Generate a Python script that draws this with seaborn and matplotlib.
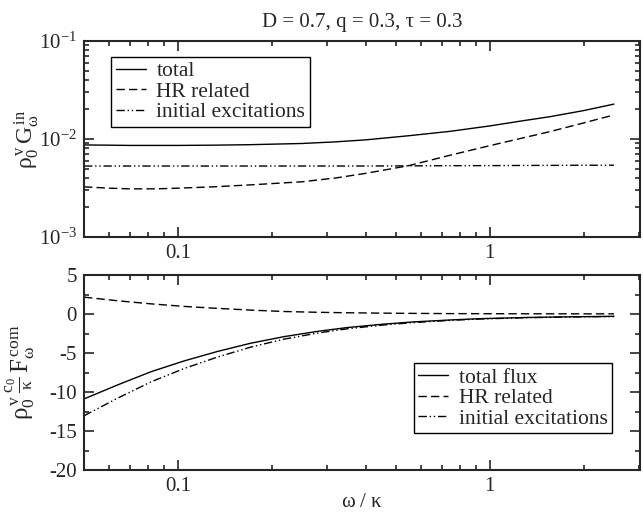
import numpy as np
import pandas as pd
import matplotlib
matplotlib.use("Agg")
import matplotlib.pyplot as plt
import matplotlib.ticker as mticker
import seaborn as sns

# Spectral density G_omega^in (upper panel)
omega_g = [0.05, 0.06, 0.07, 0.085, 0.1, 0.13, 0.17, 0.25, 0.32, 0.4, 0.55, 0.75, 1.0, 1.25, 1.56, 2.0, 2.5]
g_total = [8.7e-3, 8.65e-3, 8.6e-3, 8.6e-3, 8.6e-3, 8.65e-3, 8.75e-3, 9.0e-3, 9.35e-3, 9.8e-3,
           1.08e-2, 1.2e-2, 1.36e-2, 1.52e-2, 1.69e-2, 1.95e-2, 2.27e-2]
g_hr = [3.25e-3, 3.15e-3, 3.1e-3, 3.1e-3, 3.15e-3, 3.25e-3, 3.4e-3, 3.66e-3, 4.0e-3, 4.46e-3,
        5.35e-3, 6.86e-3, 8.55e-3, 1.01e-2, 1.19e-2, 1.46e-2, 1.76e-2]
g_init = [5.3e-3, 5.3e-3, 5.3e-3, 5.3e-3, 5.3e-3, 5.3e-3, 5.3e-3, 5.3e-3, 5.3e-3, 5.3e-3,
          5.32e-3, 5.34e-3, 5.35e-3, 5.37e-3, 5.38e-3, 5.4e-3, 5.4e-3]

# Flux F_omega^com (lower panel)
omega_f = [0.05, 0.064, 0.082, 0.105, 0.134, 0.171, 0.219, 0.28, 0.347, 0.45, 0.566, 0.75, 0.93, 1.3, 1.8, 2.5]
f_hr = [2.16, 1.7, 1.3, 0.97, 0.72, 0.5, 0.32, 0.22, 0.16, 0.11, 0.08, 0.05, 0.04, 0.03, 0.02, 0.02]
f_init = [-13.05, -10.8, -8.7, -6.97, -5.52, -4.25, -3.22, -2.45, -1.91, -1.43, -1.1, -0.81, -0.64, -0.48, -0.38, -0.32]
f_total = [h + i for h, i in zip(f_hr, f_init)]

top_labels = ["total", "HR related", "initial excitations"]
bottom_labels = ["total flux", "HR related", "initial excitations"]

sns.set_style("ticks")
plt.rcParams["font.family"] = ["Liberation Serif", "DejaVu Serif"]
plt.rcParams["mathtext.fontset"] = "stix"
plt.rcParams["mathtext.default"] = "regular"
plt.rcParams["axes.unicode_minus"] = False
plt.rcParams["axes.linewidth"] = 1.5

dash_styles = ["", (6, 3), (6, 2, 1, 2, 1, 2)]


def long_table(x, series, labels):
    return pd.DataFrame({
        "omega": list(x) * len(series),
        "value": [v for s in series for v in s],
        "series": [lab for lab in labels for _ in x],
    })


df_g = long_table(omega_g, [g_total, g_hr, g_init], top_labels)
df_f = long_table(omega_f, [f_total, f_hr, f_init], bottom_labels)

fig = plt.figure(figsize=(6.43, 5.14), dpi=100)
ax1 = fig.add_axes([84 / 643, 1 - 237 / 514, 556 / 643, 196 / 514])
ax2 = fig.add_axes([84 / 643, 1 - 470 / 514, 556 / 643, 195 / 514])

sns.lineplot(data=df_g, x="omega", y="value", hue="series", style="series",
             palette=["black"] * 3, dashes=dash_styles, linewidth=1.0, ax=ax1)
sns.lineplot(data=df_f, x="omega", y="value", hue="series", style="series",
             palette=["black"] * 3, dashes=dash_styles, linewidth=1.0, ax=ax2)

for ax in (ax1, ax2):
    ax.set_xscale("log")
    ax.set_xlim(0.05, 3.03)
    ax.xaxis.set_major_locator(mticker.FixedLocator([0.1, 1]))
    ax.xaxis.set_major_formatter(mticker.FixedFormatter(["0.1", "1"]))
    ax.xaxis.set_minor_locator(mticker.LogLocator(base=10, subs=np.arange(2, 10)))
    ax.xaxis.set_minor_formatter(mticker.NullFormatter())
    ax.tick_params(which="both", direction="in", top=True, right=True, labelsize=15, width=1.2)
    ax.tick_params(which="major", length=7, pad=5)
    ax.tick_params(which="minor", length=3.5)
    for s in ax.spines.values():
        s.set_visible(True)
        s.set_linewidth(1.5)

ax1.set_yscale("log")
ax1.set_ylim(1e-3, 1e-1)
ax1.set_xlabel("")
ax1.set_ylabel(r"$\rho_0^{\,v}\,G_\omega^{\,in}$", fontsize=17)
ax1.yaxis.set_label_coords(-0.078, 0.5)

ax2.set_ylim(-20, 5)
ax2.yaxis.set_major_locator(mticker.MultipleLocator(5))
ax2.yaxis.set_minor_locator(mticker.MultipleLocator(2.5))
ax2.set_xlabel(r"$\omega\ /\ \kappa$", fontsize=15, labelpad=-2)
ax2.set_ylabel(r"$\rho_0^{\,v}\,\frac{c_0}{\kappa}\,F_\omega^{\,com}$", fontsize=18)
ax2.yaxis.set_label_coords(-0.085, 0.5)

ax1.set_title("D = 0.7, q = 0.3, τ = 0.3", fontsize=15, pad=10)

leg_kw = dict(frameon=True, fancybox=False, edgecolor="black", framealpha=1,
              fontsize=15.5, handlelength=1.4, handletextpad=0.5, labelspacing=0.02,
              borderpad=0.2, borderaxespad=0)
l1 = ax1.legend(loc="upper left", bbox_to_anchor=(0.049, 0.918), **leg_kw)
l2 = ax2.legend(loc="lower right", bbox_to_anchor=(0.95, 0.19), **leg_kw)
for leg in (l1, l2):
    leg.get_frame().set_linewidth(1.0)
    leg.set_title(None)

fig.savefig("out.png", dpi=100)
